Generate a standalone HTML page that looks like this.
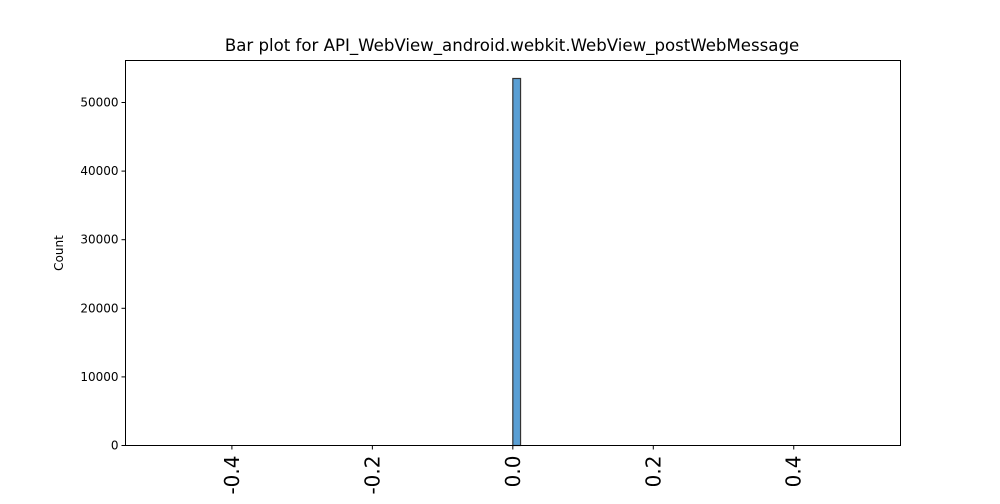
<!DOCTYPE html>
<html><head><meta charset="utf-8"><style>
body{margin:0;background:#fff;font-family:"DejaVu Sans","Liberation Sans",sans-serif}
</style></head><body>
<svg id="chart" width="1000" height="500" xmlns="http://www.w3.org/2000/svg" font-family="DejaVu Sans, Liberation Sans, sans-serif">
<text x="512" y="51" text-anchor="middle" font-size="16.6">Bar plot for API_WebView_android.webkit.WebView_postWebMessage</text>
<text transform="translate(63,253) rotate(-90)" text-anchor="middle" font-size="12">Count</text>
<g id="bars"></g><g id="yt"></g><g id="xt"></g>
<rect x="125.5" y="60.5" width="775" height="385" fill="none" stroke="#000" stroke-width="1"/>
</svg>
<script>
const binStarts=[0.0];
const binEnds=[0.011];
const counts=[53500];
const yTicks=[0,10000,20000,30000,40000,50000];
const xTicks=[-0.4,-0.2,0.0,0.2,0.4];
const xTickLabels=["-0.4","-0.2","0.0","0.2","0.4"];
const L=125.5,R=900.5,T=60.5,B=445.5;
const xs=v=>L+(v+0.5515)/1.1035*(R-L);
const ys=v=>B-v/50000*343;
const ns="http://www.w3.org/2000/svg";
function mk(t,a,p){const e=document.createElementNS(ns,t);for(const k in a)e.setAttribute(k,a[k]);p.appendChild(e);return e;}
const gb=document.getElementById('bars');
counts.forEach((c,i)=>{const x0=xs(binStarts[i]),x1=xs(binEnds[i]);
const r=mk('rect',{x:x0,y:ys(c),width:x1-x0,height:B-ys(c),fill:'#5a9fd4',stroke:'#333','stroke-width':1.2},gb);

});
const gy=document.getElementById('yt');
yTicks.forEach(v=>{const y=ys(v);
const l=mk('line',{x1:L-4,x2:L,y1:y,y2:y,stroke:'#000'},gy);


const t=mk('text',{x:L-7,y:y+4,'text-anchor':'end','font-size':12},gy);t.textContent=v;

});
const gx=document.getElementById('xt');
xTicks.forEach((v,i)=>{const x=xs(v);
const l=mk('line',{x1:x,x2:x,y1:B,y2:B+4,stroke:'#000'},gx);


const t=mk('text',{transform:`translate(${x+7},${B+10}) rotate(-90)`,'text-anchor':'end','font-size':20},gx);t.textContent=xTickLabels[i];

});
</script>
</body></html>
